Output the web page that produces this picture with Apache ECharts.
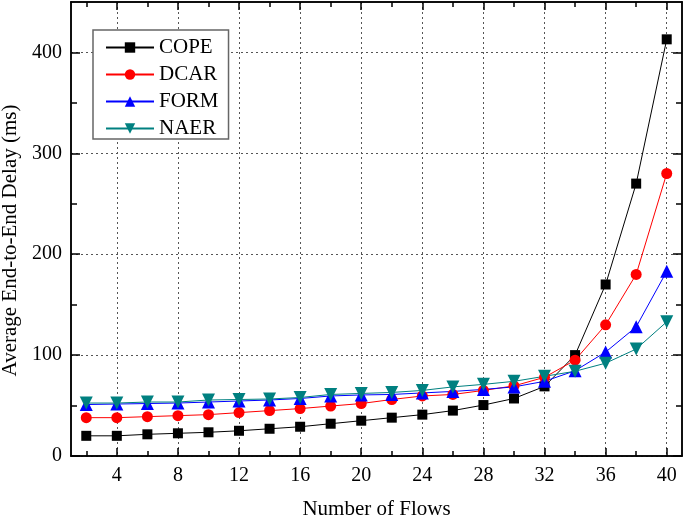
<!DOCTYPE html>
<html>
<head>
<meta charset="utf-8">
<script src="https://cdn.jsdelivr.net/npm/echarts@6/dist/echarts.min.js"></script>
<style>html,body{margin:0;padding:0;background:#fff}#c{width:685px;height:518px}</style>
</head>
<body>
<div id="c"></div>
<script>
const flows = [2,4,6,8,10,12,14,16,18,20,22,24,26,28,30,32,34,36,38,40];
const cope = [20,20,21.5,22.5,23.5,25,27,29,32,35,38,41,45,50.5,57,69,100,170,270,413];
const dcar = [38,38,39,40,41,43,45,47,49.5,52,56,59.5,61,65,69.5,78,95,130,180,280];
const form = [51,51.5,52,52.5,53.5,54.5,55.5,57,59.5,60.5,61,62.5,64,66,68.5,74,84.5,103,128,183];
const naer = [52.5,52.5,53.5,53.5,55.5,56,56.5,58,61,62,63,65,68.5,71,74,79,84,92,106,133];
const xMajor = [4,8,12,16,20,24,28,32,36,40];
const xMinor = [2,6,10,14,18,22,26,30,34,38];
const yMajor = [0,100,200,300,400];
const yMinor = [50,150,250,350];

const FONT = 'Liberation Serif';
const pair = (xs, ys) => xs.map((x, i) => [x, ys[i]]);

function xAx(pos, ticks, len, labels, split) {
  return {
    type: 'value', min: 1, max: 41, position: pos, gridIndex: 0,
    axisLine: { show: true, onZero: false, lineStyle: { color: '#000', width: 1.5 } },
    axisTick: { show: true, inside: true, length: len, customValues: ticks, lineStyle: { color: '#000', width: 1.5 } },
    axisLabel: labels ? { show: true, customValues: ticks, margin: 10, color: '#000', fontSize: 20, fontFamily: FONT } : { show: false },
    splitLine: split ? { show: true, lineStyle: { type: [2, 3], color: '#555', width: 1 } } : { show: false }
  };
}
function yAx(pos, ticks, len, labels, split) {
  return {
    type: 'value', min: 0, max: 450, position: pos, gridIndex: 0,
    axisLine: { show: true, onZero: false, lineStyle: { color: '#000', width: 1.5 } },
    axisTick: { show: true, inside: true, length: len, customValues: ticks, lineStyle: { color: '#000', width: 1.5 } },
    axisLabel: labels ? { show: true, customValues: ticks, margin: 9, color: '#000', fontSize: 20, fontFamily: FONT } : { show: false },
    splitLine: split ? { show: true, lineStyle: { type: [2, 3], color: '#555', width: 1 } } : { show: false }
  };
}

const xMain = xAx('bottom', xMajor, 8, true, true);
xMain.name = 'Number of Flows';
xMain.nameLocation = 'middle';
xMain.nameGap = 43;
xMain.nameTextStyle = { color: '#000', fontSize: 21, fontFamily: FONT };

const yMain = yAx('left', yMajor, 9, true, true);
yMain.name = 'Average End-to-End Delay (ms)';
yMain.nameLocation = 'middle';
yMain.nameGap = 50;
yMain.nameTextStyle = { color: '#000', fontSize: 21, fontFamily: FONT, padding: [0, 23, 0, 0] };

function ser(name, data, color, symbol, size, rot) {
  return {
    name, type: 'line', xAxisIndex: 0, yAxisIndex: 0,
    data: pair(flows, data),
    symbol, symbolSize: size, symbolRotate: rot || 0,
    showAllSymbol: true,
    lineStyle: { color, width: 1 },
    itemStyle: { color, borderWidth: 0 },
    emphasis: { disabled: true },
    animation: false
  };
}

const chart = echarts.init(document.getElementById('c'), null, { renderer: 'canvas' });
chart.setOption({
  animation: false,
  backgroundColor: '#fff',
  grid: { left: 71, right: 3, top: 2, bottom: 62, containLabel: false, outerBoundsMode: 'none' },
  legend: {
    orient: 'vertical', left: 93, top: 30,
    backgroundColor: '#fff', borderColor: '#666', borderWidth: 1.5,
    padding: [7, 10, 0, 12],
    itemWidth: 48, itemHeight: 13, itemGap: 6,
    textStyle: { color: '#000', fontSize: 21, fontFamily: FONT },
    data: ['COPE', 'DCAR', 'FORM', 'NAER']
  },
  xAxis: [
    xMain,
    xAx('bottom', xMinor, 5, false, false),
    xAx('top', xMajor, 8, false, false),
    xAx('top', xMinor, 5, false, false)
  ],
  yAxis: [
    yMain,
    yAx('left', yMinor, 6, false, false),
    yAx('right', yMajor, 9, false, false),
    yAx('right', yMinor, 6, false, false)
  ],
  series: [
    ser('COPE', cope, '#000000', 'rect', 10),
    ser('DCAR', dcar, '#ff0000', 'circle', 11),
    ser('FORM', form, '#0000ff', 'triangle', 13),
    ser('NAER', naer, '#008080', 'triangle', 13, 180)
  ]
});
</script>
</body>
</html>
